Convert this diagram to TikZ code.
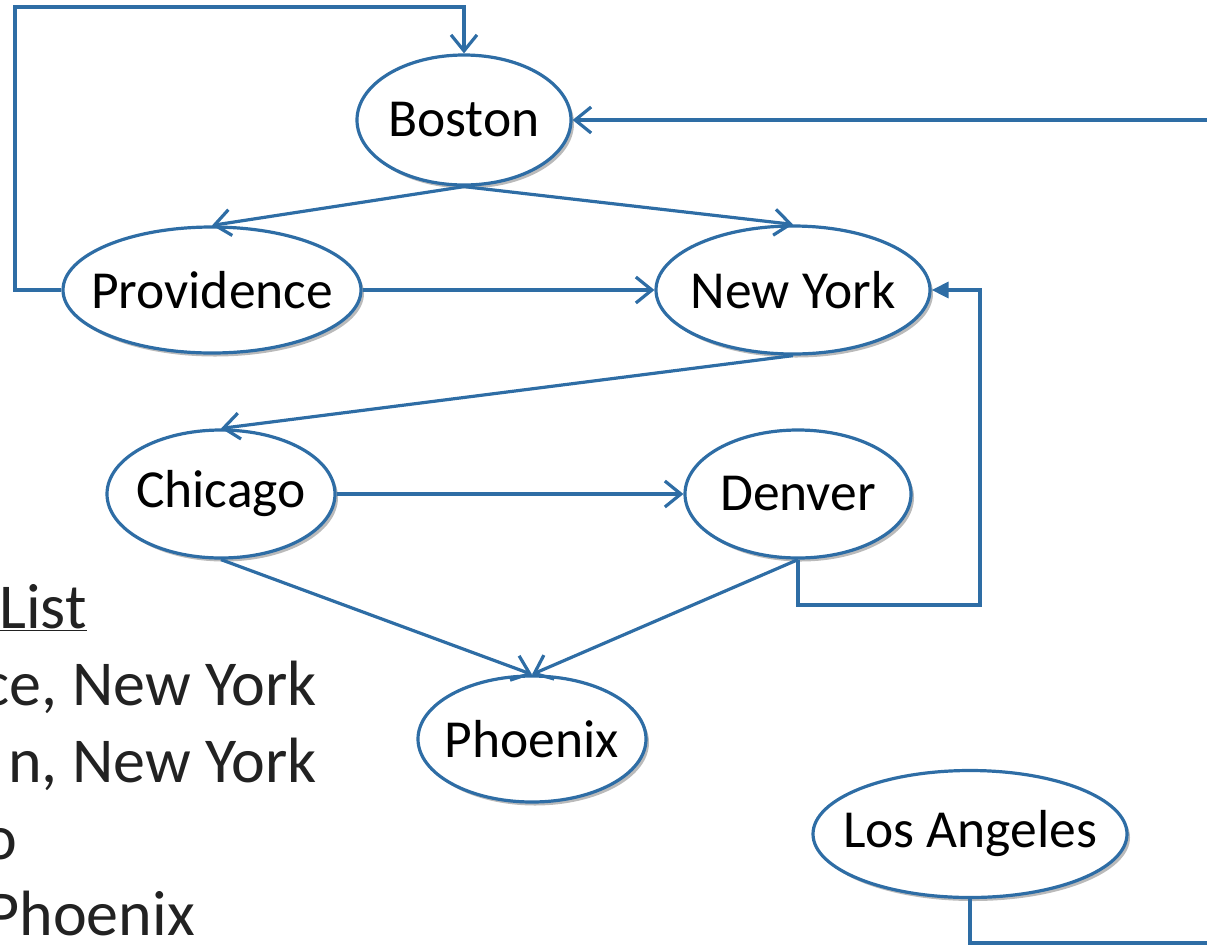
\documentclass[tikz,border=0pt]{standalone}
\usepackage{fontspec}
\setmainfont{Carlito}
\usetikzlibrary{shapes.geometric,arrows.meta,shadows}
\definecolor{edgeblue}{HTML}{2E6DA5}
\definecolor{listgray}{HTML}{222222}
\tikzset{
  city/.style={ellipse, draw=edgeblue, line width=3.2pt, fill=white, inner sep=0pt,
    drop shadow={shadow xshift=3pt, shadow yshift=-3.5pt, opacity=0.45, fill=black!60}},
  citytext/.style={font=\fontsize{53.5}{60}\selectfont, text=black, inner sep=0pt},
  conn/.style={draw=edgeblue, line width=3.2pt},
  arr/.style={conn, -{Straight Barb[length=16pt,width=26pt,line width=3.2pt]}},
  tri/.style={conn, -{Triangle[length=17pt,width=16pt]}},
  listtext/.style={inner sep=0pt, text=listgray, font=\fontsize{64}{72}\selectfont}
}
\begin{document}
\begin{tikzpicture}[x=1pt,y=-1pt]
\useasboundingbox (0,0) rectangle (1207,946);
\clip (0,0) rectangle (1207,946);
% nodes
\node[city, minimum width=214pt, minimum height=130pt,
  label={[citytext]center:Boston}] (B) at (464,120) {};
\node[city, minimum width=298pt, minimum height=126pt,
  label={[citytext]center:Providence}] (P) at (212,290) {};
\node[city, minimum width=274pt, minimum height=128pt,
  label={[citytext]center:New York}] (NY) at (793,290) {};
\node[city, minimum width=228pt, minimum height=128pt,
  label={[citytext]center:Chicago}] (C) at (221,494) {};
\node[city, minimum width=226pt, minimum height=128pt,
  label={[citytext]center:Denver}] (D) at (798,494) {};
\node[city, minimum width=228pt, minimum height=126pt,
  label={[citytext]center:Phoenix}] (PH) at (532,739) {};
\node[city, minimum width=314pt, minimum height=127pt,
  label={[citytext]center:Los Angeles}] (LA) at (970,834) {};
% list text
\node[listtext, anchor=base west] (lhead) at (-1,628) {\underline{List}};
\node[listtext, anchor=base east] (l1) at (317,705) {ce, New York};
\node[listtext, anchor=base east] (l2) at (317,782) {n, New York};
\node[listtext, anchor=base east] (l3) at (17,859) {o};
\node[listtext, anchor=base east] (l4) at (195,935) {Phoenix};
% helper coordinates
\coordinate (topleft) at (15,7);
\coordinate (rightin) at (1210,120);
\coordinate (dloop) at (980,605);
\coordinate (laout) at (1210,943);
% connectors
\draw[arr] (B.south) -- (P.north);
\draw[arr] (B.south) -- (NY.north);
\draw[arr] (P.east) -- (NY.west);
\draw[arr] (P.west) -| (topleft) -| (B.north);
\draw[arr] (rightin) -- (B.east);
\draw[arr] (NY.south) -- (C.north);
\draw[arr] (C.east) -- (D.west);
\draw[arr] (C.south) -- (PH.north);
\draw[arr] (D.south) -- (PH.north);
\draw[tri] (D.south) |- (dloop) |- (NY.east);
\draw[conn] (LA.south) |- (laout);
\end{tikzpicture}
\end{document}
